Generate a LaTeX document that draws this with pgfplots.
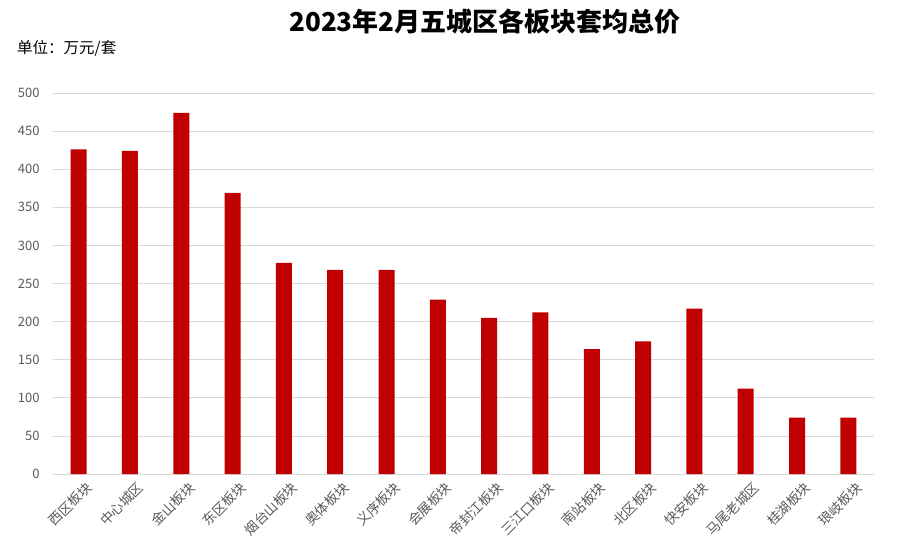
\documentclass[border=0pt]{standalone}
\usepackage{pgfplots}
\pgfplotsset{compat=1.18}
\usepackage{fontspec}
\setmainfont{Noto Sans CJK SC}
\definecolor{barred}{HTML}{C00000}
\definecolor{gridgray}{HTML}{D9D9D9}
\definecolor{labgray}{HTML}{595959}
\begin{document}
\begin{tikzpicture}[x=1pt,y=1pt]
\useasboundingbox (0,0) rectangle (899,557);
\begin{axis}[
  at={(53pt,83pt)}, anchor=south west,
  scale only axis, width=821pt, height=381pt,
  xmin=-0.5, xmax=15.5, ymin=0, ymax=500,
  ytick={0,50,...,500},
  xtick={0,...,15},
  xticklabels={西区板块,中心城区,金山板块,东区板块,烟台山板块,奥体板块,义序板块,会展板块,帝封江板块,三江口板块,南站板块,北区板块,快安板块,马尾老城区,桂湖板块,琅岐板块},
  xticklabel style={rotate=45, anchor=north east, font=\fontsize{13.5}{15}\selectfont, text=labgray, inner sep=1pt, xshift=1pt, yshift=-8pt},
  yticklabel style={font=\fontsize{13}{15}\selectfont, text=labgray, xshift=-10pt},
  /pgf/number format/assume math mode=true,
  ymajorgrids, grid style={gridgray, line width=0.8pt},
  axis line style={draw=none},
  ytick style={draw=none}, xtick style={draw=none},
  clip=false,
]
\addplot[ybar, bar width=16pt, fill=barred, draw=none] coordinates {
(0,426) (1,424) (2,474) (3,369) (4,277) (5,268) (6,268) (7,229)
(8,205) (9,212) (10,164) (11,174) (12,217) (13,112) (14,74) (15,74)
};
\end{axis}
\node[font=\fontsize{26}{28}\selectfont\bfseries] at (485,535) {2023年2月五城区各板块套均总价};
\node[anchor=west, font=\fontsize{15.5}{17}\selectfont, inner sep=0pt] at (17,509) {单位：万元/套};
\end{tikzpicture}
\end{document}
